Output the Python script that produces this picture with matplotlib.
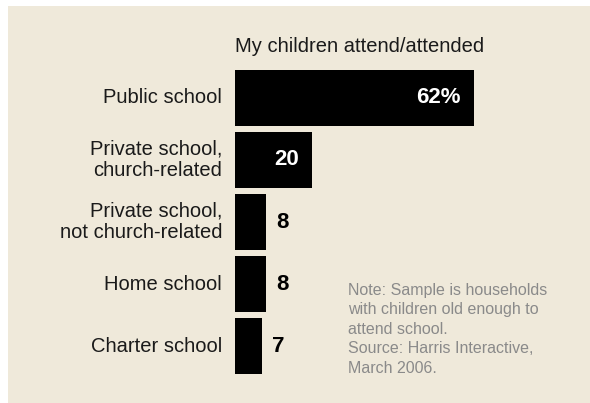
import matplotlib
matplotlib.use("Agg")
import matplotlib.pyplot as plt
from matplotlib.patches import Rectangle

categories = ["Public school", "Private school,\nchurch-related",
              "Private school,\nnot church-related", "Home school", "Charter school"]
values = [62, 20, 8, 8, 7]
value_labels = ["62%", "20", "8", "8", "7"]
inside = [True, True, False, False, False]
title = "My children attend/attended"
note = ("Note: Sample is households\nwith children old enough to\n"
        "attend school.\nSource: Harris Interactive,\nMarch 2006.")

W, H = 590, 403
DPI = 100
BG = "#efe9da"
plt.rcParams["font.family"] = ["Liberation Sans", "DejaVu Sans"]

fig = plt.figure(figsize=(W / DPI, H / DPI), dpi=DPI, facecolor="white")
# beige panel
fig.patches.append(Rectangle((8 / W, -0.01), 1.01 - 8 / W, 1.01 - 6 / H,
                             transform=fig.transFigure, facecolor=BG,
                             edgecolor="none", zorder=-5))

ax_left, ax_right = 235, 575
ax_top, ax_bot = 70, 374
ax = fig.add_axes([ax_left / W, (H - ax_bot) / H,
                   (ax_right - ax_left) / W, (ax_bot - ax_top) / H])
ax.set_zorder(2)
ax.set_facecolor("none")
px_per_unit = 239 / 62
ax.set_xlim(0, (ax_right - ax_left) / px_per_unit)
ypos = list(range(len(values)))
ax.set_ylim(len(values) - 0.55, -0.45)
ax.barh(ypos, values, height=0.905, color="black", edgecolor="none")
for s in ax.spines.values():
    s.set_visible(False)
ax.set_xticks([])
ax.set_yticks([])

for y, lab in zip(ypos, categories):
    ax.annotate(lab, (0, y), xytext=(-13 * 72 / DPI, 0), textcoords="offset points",
                ha="right", va="center", fontsize=14.5, color="#1a1a1a",
                linespacing=1.17, annotation_clip=False)

for y, v, lab, ins in zip(ypos, values, value_labels, inside):
    if ins:
        ax.annotate(lab, (v, y), xytext=(-13 * 72 / DPI, 0), textcoords="offset points",
                    ha="right", va="center", fontsize=16, fontweight="bold", color="white")
    else:
        ax.annotate(lab, (v, y), xytext=(10 * 72 / DPI, 0), textcoords="offset points",
                    ha="left", va="center", fontsize=16, fontweight="bold", color="black")

fig.text(235 / W, 1 - 47 / H, title, ha="left", va="center",
         fontsize=14.5, color="#1a1a1a")
fig.text(348 / W, 1 - 283 / H, note, ha="left", va="top",
         fontsize=11.5, color="#8a8a8a", linespacing=1.37)

fig.savefig("out.png", dpi=DPI, facecolor="white")
